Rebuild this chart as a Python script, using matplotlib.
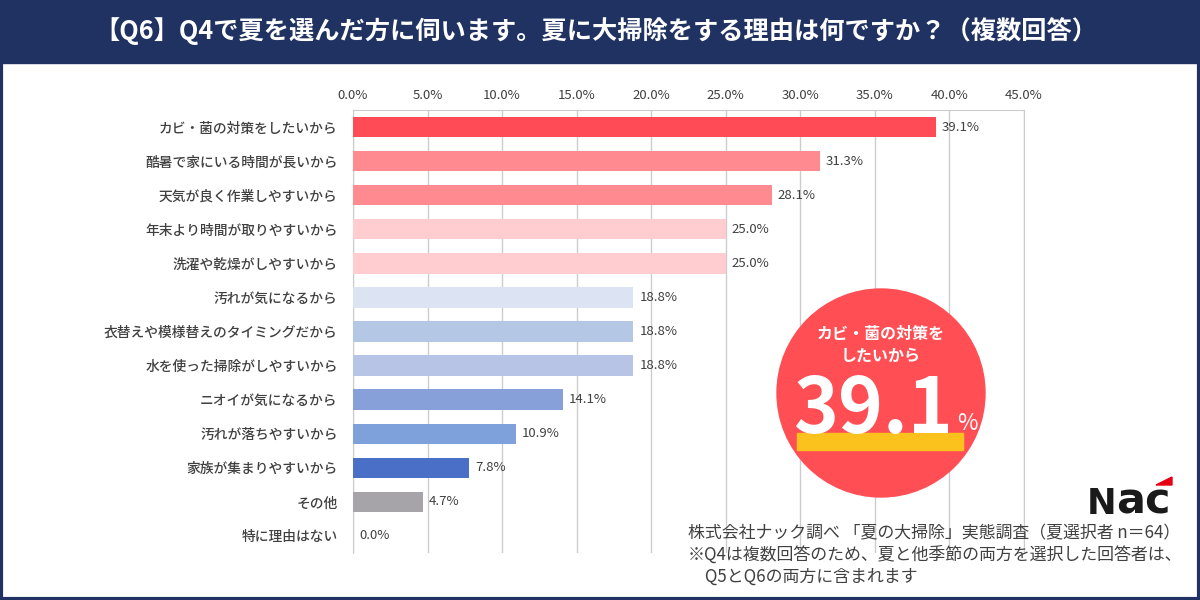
import matplotlib
matplotlib.use("Agg")
import matplotlib.pyplot as plt
from matplotlib.patches import Rectangle, Circle, Polygon

plt.rcParams['font.family'] = ['Noto Sans CJK JP', 'DejaVu Sans']

categories = ["カビ・菌の対策をしたいから", "酷暑で家にいる時間が長いから", "天気が良く作業しやすいから",
              "年末より時間が取りやすいから", "洗濯や乾燥がしやすいから", "汚れが気になるから",
              "衣替えや模様替えのタイミングだから", "水を使った掃除がしやすいから", "ニオイが気になるから",
              "汚れが落ちやすいから", "家族が集まりやすいから", "その他", "特に理由はない"]
values = [39.1, 31.3, 28.1, 25.0, 25.0, 18.8, 18.8, 18.8, 14.1, 10.9, 7.8, 4.7, 0.0]
colors = ["#FF4B55", "#FF8A8F", "#FF8A8F", "#FFCCCF", "#FFCCCF", "#DCE3F3", "#B4C8E6",
          "#B8C4E6", "#87A0DA", "#7EA1DC", "#4A6FC7", "#A6A4A9", "#A6A4A9"]
xticks = [0, 5, 10, 15, 20, 25, 30, 35, 40, 45]
title = "【Q6】Q4で夏を選んだ方に伺います。夏に大掃除をする理由は何ですか？（複数回答）"
highlight_label = "カビ・菌の対策を\nしたいから"
highlight_value = "39.1"
source_lines = ["株式会社ナック調べ 「夏の大掃除」実態調査（夏選択者 n＝64）",
                "※Q4は複数回答のため、夏と他季節の両方を選択した回答者は、",
                "　Q5とQ6の両方に含まれます"]

W, H = 1200, 600
fig = plt.figure(figsize=(12, 6), dpi=100)
fig.patch.set_facecolor("white")

navy = "#1F3261"
text_gray = "#404040"
grid_c = "#CCCCCC"

# main chart axes
ax = fig.add_axes([353 / W, 1 - 553 / H, (1024 - 353) / W, (553 - 110) / H])
y = list(range(len(categories)))
ax.barh(y, values, height=0.6, color=colors, zorder=3)
ax.set_xlim(0, 45)
ax.set_ylim(len(categories) - 0.5, -0.5)
ax.set_yticks(y)
ax.set_yticklabels(categories, fontsize=9.9, color=text_gray, fontweight='medium')
ax.set_xticks(xticks)
ax.set_xticklabels([f"{t:.1f}%" for t in xticks], fontsize=9.5, color=text_gray)
ax.xaxis.tick_top()
ax.tick_params(axis='both', length=0)
ax.tick_params(axis='x', pad=6)
ax.tick_params(axis='y', pad=11)
ax.grid(axis='x', color=grid_c, linewidth=1, zorder=0)
for name, s in ax.spines.items():
    s.set_color(grid_c)
ax.spines['bottom'].set_visible(False)
for yi, v in zip(y, values):
    ax.text(v + 0.4, yi, f"{v:.1f}%", va='center', ha='left', fontsize=9.5, color=text_gray, zorder=4)

# overlay for decorations
ov = fig.add_axes([0, 0, 1, 1])
ov.set_xlim(0, W)
ov.set_ylim(H, 0)
ov.axis('off')
ov.patch.set_alpha(0)

ov.add_patch(Rectangle((0, 0), W, 63, color=navy, zorder=1))
ov.add_patch(Rectangle((1, 1), W - 2, H - 2, fill=False, edgecolor=navy, linewidth=3, zorder=5))
ov.text(W / 2 - 4, 31, title, color="white", fontsize=18.2, fontweight='bold', ha='center', va='center', zorder=2)

# highlight circle
ov.add_patch(Circle((881, 393), 104, color="#FF4F55", zorder=2))
ov.add_patch(Rectangle((797, 433), 166, 17, color="#FBC21E", zorder=3))
ov.text(881, 345, highlight_label, color="white", fontsize=11.5, fontweight='bold',
        ha='center', va='center', linespacing=1.4, zorder=4)
ov.text(873, 433, highlight_value, color="white", fontsize=55, fontweight='bold',
        ha='center', va='baseline', zorder=4)
ov.text(967, 430, "%", color="white", fontsize=16, ha='center', va='baseline', zorder=4)

# logo
ov.text(1087, 514, "N", color="#1A1A1A", fontsize=25.5, fontweight='heavy',
        family='DejaVu Sans', ha='left', va='baseline', zorder=4)
ov.text(1116, 514, "ac", color="#1A1A1A", fontsize=31, fontweight='heavy',
        family='DejaVu Sans', ha='left', va='baseline', zorder=4)
ov.add_patch(Polygon([(1156, 485), (1172, 477), (1172, 485)], closed=True, color="#E60012", zorder=5))

# source notes
for i, line in enumerate(source_lines):
    ov.text(688, 533 + i * 22, line, color=text_gray, fontsize=12.2, ha='left', va='center', zorder=4)

fig.savefig("out.png", dpi=100)
